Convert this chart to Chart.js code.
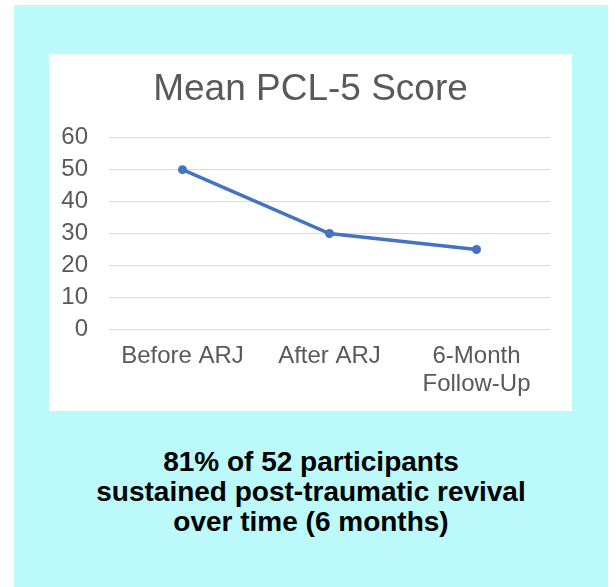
<!DOCTYPE html>
<html>
<head>
<meta charset="utf-8">
<script src="https://cdn.jsdelivr.net/npm/chart.js@4/dist/chart.umd.min.js"></script>
<style>
  html, body { margin: 0; padding: 0; background: #ffffff; width: 616px; height: 587px; overflow: hidden; }
  #bg { position: absolute; left: 14px; top: 5px; width: 594px; height: 582px; background: #bbf9fa; }
  #box { position: absolute; left: 49px; top: 54px; width: 523px; height: 357px; background: #ffffff; }
  #caption {
    position: absolute; left: 14px; top: 447px; width: 594px;
    text-align: center; font-family: "Liberation Sans", Arial, sans-serif;
    font-weight: bold; font-size: 28px; line-height: 30px; color: #000000;
  }
</style>
</head>
<body>
<div id="bg"></div>
<div id="box"><canvas id="c" width="523" height="357"></canvas></div>
<div id="caption">81% of 52 participants<br>sustained post-traumatic revival<br>over time (6 months)</div>
<script>
const chartTitle = "Mean PCL-5 Score";
const categories = [["Before ARJ"], ["After ARJ"], ["6-Month", "Follow-Up"]];
const meanScores = [50, 30, 25];
const yTicks = { min: 0, max: 60, step: 10 };

const FONT = "'Liberation Sans', Arial, sans-serif";
const GREY = "#595959";

new Chart(document.getElementById("c"), {
  type: "line",
  data: {
    labels: categories,
    datasets: [{
      data: meanScores,
      borderColor: "#4472c4",
      backgroundColor: "#4472c4",
      borderWidth: 3.5,
      pointRadius: 4.5,
      pointBorderWidth: 0,
      pointBackgroundColor: "#4472c4",
      tension: 0,
      fill: false
    }]
  },
  options: {
    responsive: false,
    animation: false,
    devicePixelRatio: 1,
    layout: { padding: 0 },
    plugins: {
      legend: { display: false },
      tooltip: { enabled: false },
      title: {
        display: true,
        text: chartTitle,
        color: GREY,
        font: { family: FONT, size: 37, weight: "normal", lineHeight: 1.2 },
        padding: { top: 14, bottom: 25.3 }
      }
    },
    scales: {
      x: {
        offset: true,
        grid: { display: false, drawTicks: false },
        border: { display: false },
        ticks: {
          color: GREY,
          padding: 13,
          maxRotation: 0,
          autoSkip: false,
          font: { family: FONT, size: 24, lineHeight: 1.17 }
        },
        afterFit: (s) => { s.height = 81.7; }
      },
      y: {
        min: yTicks.min,
        max: yTicks.max,
        grid: { color: "#d9d9d9", lineWidth: 1, drawTicks: false },
        border: { display: false },
        ticks: {
          stepSize: yTicks.step,
          color: GREY,
          padding: 21,
          font: { family: FONT, size: 24 }
        },
        afterFit: (s) => { s.width = 60; }
      },
      yRight: {
        position: "right",
        min: yTicks.min,
        max: yTicks.max,
        grid: { display: false, drawTicks: false },
        border: { display: false },
        ticks: { display: false },
        afterFit: (s) => { s.width = 22; }
      }
    }
  }
});
</script>
</body>
</html>
